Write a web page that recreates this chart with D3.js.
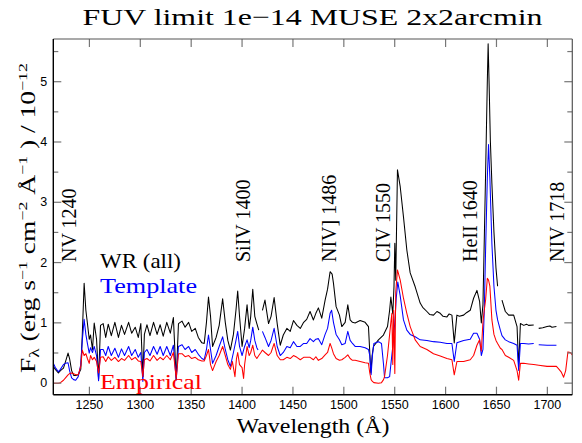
<!DOCTYPE html>
<html>
<head>
<meta charset="utf-8">
<script src="https://cdn.jsdelivr.net/npm/d3@7"></script>
<style>
  body { margin: 0; background: #fff; }
</style>
</head>
<body>
<div id="chart"></div>
<script>
// spectra: [wavelength (A), flux / 1e-12], null = gap in the data
var wrAll = [
  [1215,0.27],[1217,0.22],[1220,0.16],[1222,0.2],[1225,0.24],[1227,0.35],[1229.5,0.49],[1231,0.4],[1233,0.2],[1235,0.12],
  [1237,0.12],[1239.5,0.13],[1242,0.22],[1243.5,0.8],[1245.3,1.65],[1247,1.2],[1248.5,0.99],[1250.3,0.72],[1251.6,0.79],
  [1253.5,0.55],[1255.2,0.99],[1257.5,0.72],[1259.5,0.06],[1261.4,0.95],
  [1264,0.98],[1266.5,0.75],[1269,0.97],[1272,0.78],[1275.5,1.0],[1279,0.75],[1282,0.95],[1285,0.8],[1289,1.0],[1292,0.82],
  [1295.5,0.92],[1298.5,0.75],[1301,0.98],[1303,0.1],[1304.5,0.8],
  [1307,0.96],[1310,0.78],[1313.5,1.0],[1317,0.8],[1320,0.96],[1323,0.77],[1326.5,1.0],[1330,0.82],[1333,1.08],[1335.8,0.05],[1338,0.98],
  [1341.5,1.02],[1344.5,0.92],[1348,1.0],[1351,0.85],[1354.5,0.9],[1357.5,0.75],[1361,0.66],[1363.3,0.65],[1365.5,1.0],
  [1367.5,1.42],[1369.5,1.1],[1371.5,0.6],
  [1375,0.75],[1378,0.95],[1381.4,1.39],[1384,1.0],[1386.5,0.7],[1389,0.54],[1392,0.8],[1394.5,1.2],[1396.2,1.52],[1398,1.1],
  [1400.5,0.6],[1403,0.9],[1405.4,1.29],[1407.5,0.9],[1409,1.1],[1411,1.55],[1413,1.1],[1415,0.98],[1416.9,0.87],[1418.5,null],
  [1420.5,1.2],[1423,1.37],[1426.5,0.98],[1429,1.1],[1432,1.41],[1435,0.98],[1438,0.62],[1441,0.79],[1444.5,0.9],[1447.8,0.85],
  [1451,1.03],[1454.4,0.95],[1457.7,0.9],[1461,1.0],
  [1464,1.05],[1467.3,1.18],[1470.6,1.04],[1473,1.15],[1475.5,1.24],[1478.8,1.07],[1482.1,1.37],[1484.5,1.55],[1487,1.84],
  [1489,1.8],[1490.3,1.65],[1492.9,1.26],[1496.2,1.12],[1498.5,0.93],[1501.8,1.0],[1504.4,1.29],[1506.7,1.04],[1509,1.0],
  [1511.6,0.99],[1516.5,1.03],[1521.4,1.0],[1524.7,0.93],[1526,0.5],[1527,0.16],[1528.3,0.45],[1529.6,0.6],[1534.5,0.71],
  [1539.4,0.79],[1543.4,0.93],[1545.5,1.2],[1546.7,1.42],[1548.6,1.14],[1549.8,1.6],[1550.6,2.31],[1551.5,1.7],[1553.2,3.53],
  [1555.9,3.25],[1559.1,2.75],[1562.4,2.2],[1565.7,1.82],[1570.6,1.59],[1575.5,1.32],[1578,1.25],[1582.1,1.18],[1585,1.13],
  [1588.6,1.12],[1592,1.18],[1595.2,1.15],[1598,1.1],[1601.8,1.09],[1604,1.14],[1606.7,1.12],[1609,0.66],[1611.6,1.12],
  [1614,1.1],[1618.2,1.12],[1621,1.16],[1624.7,1.2],[1628,1.4],[1631.3,1.53],[1633.9,1.35],[1635.6,0.99],[1637.2,1.29],
  [1638.5,2.36],[1639.8,3.47],[1641.5,5.0],[1642.3,5.62],[1643.2,5.0],[1644.5,4.0],[1646,3.3],[1648,2.5],[1650,1.9],[1651.6,1.6],
  [1653,null],[1655.9,1.37],[1659.2,1.18],[1662.5,1.12],[1667.4,1.12],[1670.7,0.93],[1672.3,0.26],[1674,0.98],[1677.3,0.95],
  [1680,0.97],[1682,0.95],[1687.1,0.955],[1689,null],[1692,0.9],[1696,0.91],[1700.2,0.93],[1703,0.94],[1705,0.92],[1709.4,0.93]
];

var template = [
  [1215,0.32],[1217,0.25],[1220,0.18],[1222,0.22],[1225,0.3],[1227,0.32],[1229.5,0.33],[1231,0.2],[1233,0.08],[1235,0.05],
  [1237,0.04],[1239.5,0.1],[1242,0.3],[1243.5,0.7],[1245.3,1.05],[1247,0.8],[1248.5,0.65],[1250.3,0.49],[1251.6,0.58],
  [1253.5,0.5],[1255.2,0.6],[1257.5,0.45],[1259.5,0.03],[1261.4,0.55],
  [1264,0.55],[1266.5,0.45],[1269,0.6],[1272,0.45],[1275.5,0.57],[1279,0.42],[1282,0.56],[1285,0.45],[1289,0.6],[1292,0.45],
  [1295.5,0.55],[1298.5,0.42],[1301,0.5],[1303,0.02],[1304.5,0.5],
  [1307,0.55],[1310,0.45],[1313.5,0.6],[1317,0.47],[1320,0.6],[1323,0.45],[1326.5,0.6],[1330,0.45],[1333,0.62],[1335.8,0.04],[1338,0.6],
  [1341.5,0.63],[1344.5,0.55],[1348,0.6],[1351,0.5],[1354.5,0.55],[1357.5,0.47],[1361,0.4],[1363.3,0.38],[1365.5,0.55],
  [1367.5,0.79],[1369.5,0.55],[1371.5,0.32],
  [1375,0.45],[1378,0.6],[1381.4,0.76],[1384,0.55],[1386.5,0.38],[1389,0.27],[1392,0.5],[1394.5,0.7],[1396.2,0.85],[1398,0.6],
  [1400.5,0.45],[1403,0.6],[1405.4,0.71],[1407.5,0.58],[1409,0.7],[1411,0.92],[1413,0.7],[1415,0.58],[1416.2,0.54],[1418,null],
  [1420.5,0.85],[1423,0.75],[1426.5,0.6],[1429,0.7],[1432,0.9],[1435,0.6],[1438,0.45],[1441,0.5],[1444.5,0.6],[1447.8,0.58],
  [1451,0.68],[1454.4,0.6],[1457.7,0.6],[1461,0.65],
  [1464,0.65],[1467.3,0.73],[1470.6,0.68],[1473,0.72],[1475.5,0.73],[1478.8,0.63],[1482.1,0.8],[1484.5,0.9],[1487,1.15],
  [1488.5,1.2],[1490.3,1.0],[1492.9,0.8],[1496.2,0.71],[1498.5,0.63],[1501.8,0.65],[1504.4,0.85],[1506.7,0.7],[1509,0.65],
  [1511.6,0.6],[1516.5,0.6],[1521.4,0.58],[1524.7,0.55],[1526,0.45],[1527.3,0.13],[1528.6,0.45],[1530,0.65],[1534.5,0.68],
  [1537.5,0.65],[1539.5,0.3],[1540.5,0.08],[1543.4,0.08],[1545.5,0.1],[1546.7,0.3],[1548.6,0.6],[1550.6,1.0],[1552,1.4],
  [1553.5,1.67],[1555.9,1.44],[1559.1,1.04],[1562.4,0.87],[1565.7,0.8],[1570.6,0.76],[1575.5,0.71],[1582.1,0.7],[1588.6,0.68],
  [1595.2,0.67],[1601.8,0.65],[1606.7,0.65],[1609,0.35],[1611.6,0.66],[1618.2,0.7],[1624.7,0.72],[1628,0.82],[1631.3,0.82],
  [1633.9,0.72],[1635.6,0.45],[1637.2,0.55],[1638.5,1.2],[1639.8,2.2],[1641.5,3.4],[1642.7,3.95],[1644,3.4],[1646,2.3],
  [1648,1.6],[1650,1.2],[1651.6,1.04],[1654.3,0.87],[1655.9,0.78],[1659.2,0.71],[1662.5,0.68],[1667.4,0.65],[1670.7,0.62],
  [1672.3,0.2],[1674,0.65],[1677.3,0.65],[1682,0.64],[1687.1,0.65],[1689,null],[1692,0.63],[1700.2,0.62],[1705,0.62],[1709.4,0.62]
];

var empirical = [
  [1215,-0.01],[1217,-0.01],[1220,-0.01],[1222,0.0],[1225,0.04],[1227,0.08],[1229.5,0.13],[1231,0.15],[1233,0.16],[1235,0.15],
  [1237,0.13],[1239.5,0.13],[1242,0.27],[1243.5,0.54],[1245.3,0.45],[1247,0.48],[1248.5,0.4],[1250.3,0.32],[1251.6,0.45],
  [1253.5,0.38],[1255.2,0.42],[1257.5,0.35],[1259.5,0.16],[1261.4,0.42],
  [1264,0.43],[1266.5,0.35],[1269,0.43],[1272,0.37],[1275.5,0.42],[1279,0.35],[1282,0.4],[1285,0.37],[1289,0.45],[1292,0.38],
  [1295.5,0.42],[1298.5,0.36],[1301,0.35],[1303,0.1],[1304.5,0.38],
  [1307,0.4],[1310,0.36],[1313.5,0.45],[1317,0.37],[1320,0.42],[1323,0.38],[1326.5,0.45],[1330,0.38],[1333,0.5],[1335.8,0.07],[1338,0.48],
  [1341.5,0.48],[1344.5,0.43],[1348,0.45],[1351,0.4],[1354.5,0.42],[1357.5,0.38],[1361,0.36],[1363.3,0.36],[1365.5,0.45],
  [1367.5,0.55],[1369.5,0.3],[1371.5,0.2],
  [1375,0.35],[1378,0.45],[1381.4,0.6],[1384,0.45],[1386.5,0.3],[1389,0.22],[1391,0.35],[1393.5,0.1],[1395,0.4],[1396.2,0.5],
  [1398,0.3],[1400.5,0.25],[1402,0.07],[1403,0.3],[1405.4,0.6],[1407.5,0.45],[1409,0.5],[1411,0.62],[1413,0.45],[1415,0.4],
  [1416.9,0.45],[1419,0.5],
  [1420.5,0.54],[1423,0.5],[1426.5,0.45],[1429,0.5],[1432,0.65],[1435,0.45],[1438,0.38],[1441,0.38],[1444.5,0.42],[1447.8,0.4],
  [1451,0.45],[1454.4,0.42],[1457.7,0.38],[1461,0.42],
  [1464,0.42],[1467.3,0.42],[1470.6,0.38],[1473,0.43],[1475.5,0.37],[1478.8,0.4],[1482.1,0.46],[1484.5,0.5],[1487,0.65],
  [1488.5,0.58],[1490.3,0.48],[1492.9,0.4],[1496.2,0.37],[1498.5,0.38],[1501.8,0.42],[1504.4,0.46],[1506.7,0.4],[1509,0.37],
  [1511.6,0.37],[1516.5,0.35],[1521.4,0.33],[1524.7,0.32],[1526,0.16],[1527.3,0.05],[1528.6,0.02],[1530,0.0],[1534.5,-0.01],
  [1537.5,0.0],[1539.5,0.05],[1540.5,0.1],[1543.4,0.45],[1545.5,0.8],[1546.7,1.0],[1547.7,1.15],[1548.6,0.3],[1549.5,1.2],
  [1550.6,0.15],[1551.5,1.5],[1553.2,1.87],[1555.9,1.7],[1559.1,1.4],[1562.4,1.15],[1565.7,0.93],[1570.6,0.71],[1575.5,0.6],
  [1582.1,0.55],[1588.6,0.48],[1595.2,0.44],[1601.8,0.4],[1606.7,0.38],[1609,0.13],[1611.6,0.35],[1618.2,0.35],[1624.7,0.38],
  [1628,0.45],[1631.3,0.62],[1633.9,0.71],[1635.6,0.52],[1637.2,1.01],[1638.5,1.2],[1639.8,1.37],[1641.5,1.73],[1642.7,1.7],
  [1644,1.6],[1646,1.04],[1648,0.8],[1650,0.7],[1651.6,0.65],[1654.3,0.57],[1655.9,0.55],[1659.2,0.45],[1662.5,0.42],
  [1667.4,0.37],[1670.7,0.2],[1672.3,0.04],[1674,0.32],[1677.3,0.32],[1682,0.31],[1687.1,0.3],[1692,0.29],[1700.2,0.27],
  [1705,0.27],[1709.4,0.27],[1712,0.22],[1714,0.18],[1716.5,0.09],[1718.5,0.2],[1720.7,0.51],[1723,0.5],[1725,0.46]
];

var xTicks = [1250, 1300, 1350, 1400, 1450, 1500, 1550, 1600, 1650, 1700];
var yTicks = [0, 1, 2, 3, 4, 5];
var yMinorTicks = [0.5, 1.5, 2.5, 3.5, 4.5, 5.5];

var lineLabels = ["NV 1240", "SiIV 1400", "NIV] 1486", "CIV 1550", "HeII 1640", "NIV 1718"];
var lineLabelWaves = [1231, 1402, 1486.5, 1539.5, 1625, 1710];

var legendNames = ["WR (all)", "Template", "Empirical"];
var seriesColors = ["#000000", "#0000ff", "#ff0000"];

// layout
var W = 582, H = 443;
var margin = {top: 39, right: 9.7, bottom: 48.3, left: 53.3};
var serif = "'Liberation Serif', 'Times New Roman', serif";
var sans = "'Liberation Sans', Arial, sans-serif";

var svg = d3.select("#chart").append("svg")
    .attr("width", W)
    .attr("height", H);

var x = d3.scaleLinear().domain([1215, 1725]).range([margin.left, W - margin.right]);
var y = d3.scaleLinear().domain([-0.2, 5.7]).range([H - margin.bottom, margin.top]);

svg.append("clipPath").attr("id", "plotClip")
  .append("rect")
    .attr("x", margin.left).attr("y", margin.top)
    .attr("width", W - margin.left - margin.right)
    .attr("height", H - margin.top - margin.bottom);

// spectra
var line = d3.line()
    .defined(function(d) { return d[1] !== null; })
    .x(function(d) { return x(d[0]); })
    .y(function(d) { return y(d[1]); });

var plot = svg.append("g").attr("clip-path", "url(#plotClip)");
[wrAll, template, empirical].forEach(function(s, i) {
  plot.append("path")
    .datum(s)
    .attr("fill", "none")
    .attr("stroke", seriesColors[i])
    .attr("stroke-width", 1.05)
    .attr("stroke-linejoin", "round")
    .attr("d", line);
});

// axes, ticks pointing inward
function styleAxis(g) {
  g.select(".domain").remove();
  g.selectAll(".tick line").attr("stroke", "#777").attr("stroke-width", 1.2);
  g.selectAll(".tick text").attr("fill", "#000").style("font-family", sans).style("font-size", "12.5px");
}

svg.append("g")
    .attr("transform", "translate(0," + (H - margin.bottom) + ")")
    .call(d3.axisBottom(x).tickValues(xTicks).tickSize(-8).tickPadding(5).tickFormat(d3.format("d")))
    .call(styleAxis);
svg.append("g")
    .attr("transform", "translate(0," + margin.top + ")")
    .call(d3.axisTop(x).tickValues(xTicks).tickSize(-8).tickFormat(""))
    .call(styleAxis);
svg.append("g")
    .attr("transform", "translate(" + margin.left + ",0)")
    .call(d3.axisLeft(y).tickValues(yTicks).tickSize(-8).tickPadding(6).tickFormat(d3.format("d")))
    .call(styleAxis);
svg.append("g")
    .attr("transform", "translate(" + margin.left + ",0)")
    .call(d3.axisLeft(y).tickValues(yMinorTicks).tickSize(-5).tickFormat(""))
    .call(styleAxis);
svg.append("g")
    .attr("transform", "translate(" + (W - margin.right) + ",0)")
    .call(d3.axisRight(y).tickValues(yTicks).tickSize(-8).tickFormat(""))
    .call(styleAxis);
svg.append("g")
    .attr("transform", "translate(" + (W - margin.right) + ",0)")
    .call(d3.axisRight(y).tickValues(yMinorTicks).tickSize(-5).tickFormat(""))
    .call(styleAxis);

// frame
var x0 = margin.left, x1 = W - margin.right, y0 = margin.top, y1 = H - margin.bottom;
svg.append("line").attr("x1", x0).attr("x2", x1).attr("y1", y0).attr("y2", y0).attr("stroke", "#555").attr("stroke-width", 1.2);
svg.append("line").attr("x1", x1).attr("x2", x1).attr("y1", y0).attr("y2", y1).attr("stroke", "#555").attr("stroke-width", 1.2);
svg.append("line").attr("x1", x0).attr("x2", x1).attr("y1", y1).attr("y2", y1).attr("stroke", "#000").attr("stroke-width", 1.4);
svg.append("line").attr("x1", x0).attr("x2", x0).attr("y1", y0).attr("y2", y1).attr("stroke", "#000").attr("stroke-width", 1.4);

// title
svg.append("text")
    .attr("x", 312.5).attr("y", 25)
    .attr("text-anchor", "middle")
    .attr("textLength", 460).attr("lengthAdjust", "spacingAndGlyphs")
    .style("font-family", serif).style("font-size", "24px")
    .text("FUV limit 1e\u221214 MUSE 2x2arcmin");

// x label
svg.append("text")
    .attr("x", 313).attr("y", 433)
    .attr("text-anchor", "middle")
    .attr("textLength", 153).attr("lengthAdjust", "spacingAndGlyphs")
    .style("font-family", serif).style("font-size", "20px")
    .text("Wavelength (\u00c5)");

// y label
var yl = svg.append("text")
    .attr("transform", "translate(35,218) rotate(-90)")
    .attr("text-anchor", "middle")
    .attr("textLength", 310).attr("lengthAdjust", "spacingAndGlyphs")
    .style("font-family", serif).style("font-size", "20px");
yl.append("tspan").text("F");
yl.append("tspan").attr("dy", 4).style("font-size", "14px").text("\u03bb");
yl.append("tspan").attr("dy", -4).text(" (erg s");
yl.append("tspan").attr("dy", -8).style("font-size", "13px").text("\u22121");
yl.append("tspan").attr("dy", 8).text(" cm");
yl.append("tspan").attr("dy", -8).style("font-size", "13px").text("\u22122");
yl.append("tspan").attr("dy", 8).text(" \u00c5");
yl.append("tspan").attr("dy", -8).style("font-size", "13px").text("\u22121");
yl.append("tspan").attr("dy", 8).text(" ) / 10");
yl.append("tspan").attr("dy", -8).style("font-size", "13px").text("\u221212");

// line identifications
lineLabels.forEach(function(t, i) {
  svg.append("text")
    .attr("transform", "translate(" + (x(lineLabelWaves[i]) + 6.5) + ",262) rotate(-90)")
    .style("font-family", serif).style("font-size", "20px")
    .text(t);
});

// legend
var legendY = [268, 292.5, 389];
var legendW = [81, 97, 102];
legendNames.forEach(function(t, i) {
  svg.append("text")
    .attr("x", 100).attr("y", legendY[i])
    .attr("fill", seriesColors[i])
    .attr("textLength", legendW[i]).attr("lengthAdjust", "spacingAndGlyphs")
    .style("font-family", serif).style("font-size", "21px")
    .text(t);
});
</script>
</body>
</html>
